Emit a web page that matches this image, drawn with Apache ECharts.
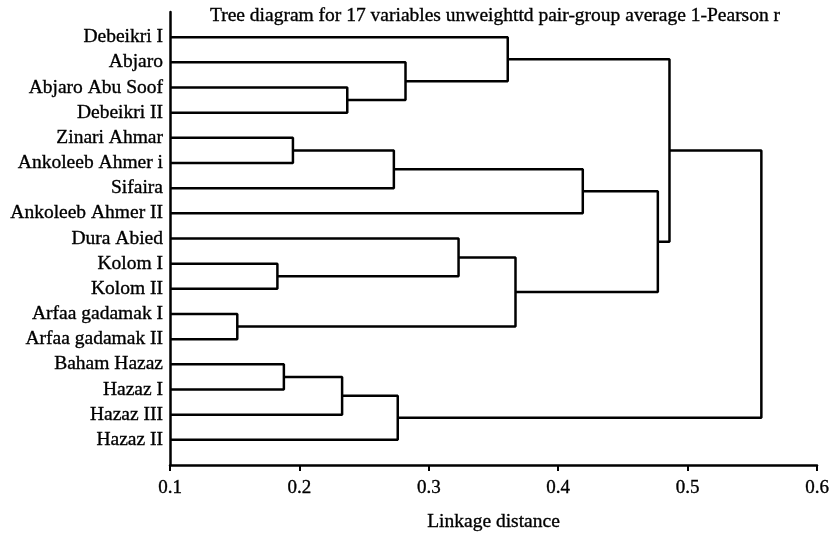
<!DOCTYPE html>
<html><head><meta charset="utf-8">
<script src="https://cdn.jsdelivr.net/npm/echarts@6/dist/echarts.min.js"></script>
<style>html,body{margin:0;padding:0;background:#fff}#c{width:833px;height:533px}</style>
</head><body><div id="c"></div>
<script>
const leaves = ['Debeikri I','Abjaro','Abjaro Abu Soof','Debeikri II','Zinari Ahmar','Ankoleeb Ahmer i','Sifaira','Ankoleeb Ahmer II','Dura Abied','Kolom I','Kolom II','Arfaa gadamak I','Arfaa gadamak II','Baham Hazaz','Hazaz I','Hazaz III','Hazaz II'];
// merges: ids 0..16 are leaves, 17+ are clusters in merge order
const mergeLeft   = [11, 9, 13, 4, 19, 2, 20, 21, 1, 8, 0, 26, 23, 29, 27, 31];
const mergeRight  = [12, 10, 14, 5, 15, 3, 6, 16, 22, 18, 25, 17, 7, 28, 30, 24];
const mergeHeight = [0.152, 0.183, 0.188, 0.195, 0.233, 0.237, 0.273, 0.276, 0.282, 0.323, 0.361, 0.367, 0.419, 0.477, 0.486, 0.557];
const xTicks = [0.1, 0.2, 0.3, 0.4, 0.5, 0.6];
const titleText = 'Tree diagram for 17 variables unweighttd pair-group average 1-Pearson r';
const xName = 'Linkage distance';

const xMin = xTicks[0], xMax = xTicks[xTicks.length - 1];
const nodeX = leaves.map(() => xMin);
const nodeY = leaves.map((_, i) => i);
const series = [];
mergeLeft.forEach((l, k) => {
  const r = mergeRight[k], h = mergeHeight[k];
  series.push({
    type: 'line', silent: true, showSymbol: false, animation: false,
    lineStyle: { color: '#000', width: 2.5 },
    data: [[nodeX[l], nodeY[l]], [h, nodeY[l]], [h, nodeY[r]], [nodeX[r], nodeY[r]]]
  });
  nodeX.push(h);
  nodeY.push((nodeY[l] + nodeY[r]) / 2);
});

const font = 'Liberation Serif';
const heavy = { textBorderColor: '#000', textBorderWidth: 0.35 };
const chart = echarts.init(document.getElementById('c'));
chart.setOption({
  animation: false,
  backgroundColor: '#fff',
  grid: { left: 170, right: 16, top: 12, bottom: 68, containLabel: false, outerBoundsMode: 'none' },
  xAxis: {
    type: 'value', min: xMin, max: xMax, interval: 0.1,
    name: xName, nameLocation: 'middle', nameGap: 47,
    nameTextStyle: Object.assign({ fontFamily: font, fontSize: 19.5, color: '#000' }, heavy),
    axisLine: { show: true, onZero: false, lineStyle: { color: '#000', width: 2.5 } },
    axisTick: { show: true, length: 6, lineStyle: { color: '#000', width: 2 } },
    axisLabel: Object.assign({ fontFamily: font, fontSize: 19, color: '#000', margin: 14, formatter: v => v.toFixed(1) }, heavy),
    splitLine: { show: false }
  },
  yAxis: {
    type: 'value', inverse: true, min: -1, max: leaves.length, interval: 1,
    axisLine: { show: true, onZero: false, lineStyle: { color: '#000', width: 2.5 } },
    axisTick: { show: false },
    axisLabel: Object.assign({ fontFamily: font, fontSize: 19.5, color: '#000', margin: 7,
      formatter: v => (leaves[v] !== undefined ? leaves[v] : '') }, heavy),
    splitLine: { show: false }
  },
  graphic: [{
    type: 'text', x: 495, y: 16,
    style: { text: titleText, font: '19.5px "Liberation Serif"', fill: '#000', stroke: '#000', lineWidth: 0.35, align: 'center', verticalAlign: 'middle' }
  }],
  series: series
});
</script></body></html>
